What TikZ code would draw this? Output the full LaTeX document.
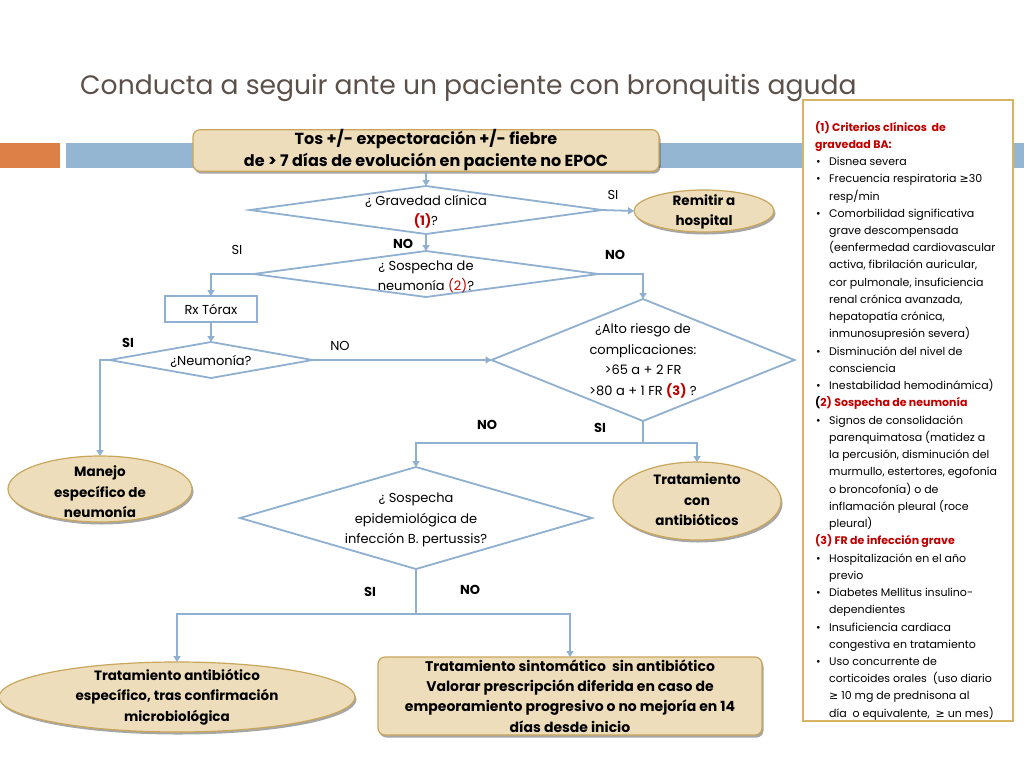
\documentclass[tikz,border=0pt]{standalone}
\usepackage{fontspec}
\setmainfont{Poppins}
\newfontfamily\symf{DejaVu Sans}
\usetikzlibrary{shapes.geometric,arrows.meta,shadows}
\definecolor{lineblue}{RGB}{143,176,208}
\definecolor{barblue}{RGB}{148,182,210}
\definecolor{barorange}{RGB}{221,128,71}
\definecolor{beige}{RGB}{238,221,186}
\definecolor{goldb}{RGB}{200,166,92}
\definecolor{panelgold}{RGB}{214,180,100}
\definecolor{redt}{RGB}{192,0,0}
\definecolor{titlec}{RGB}{92,80,74}
\newcommand{\bul}{\hspace*{1pt}\makebox[13pt][l]{•}}
\newcommand{\ind}{\hspace*{14pt}}
\tikzset{
  conn/.style={draw=lineblue, line width=1.8pt, -{Triangle[width=7pt,length=6pt]}},
  seg/.style={draw=lineblue, line width=1.8pt},
  dia/.style={diamond, draw=lineblue, line width=1.8pt, inner sep=0pt, outer sep=0pt, fill=white},
  dtext/.style={align=center, font=\fontsize{13}{20.5}\selectfont, inner sep=0pt},
  shad/.style={drop shadow={shadow xshift=1.5pt, shadow yshift=-2.5pt, fill=black, opacity=0.35}},
  bbox/.style={rectangle, rounded corners=7pt, draw=goldb, line width=1.2pt, fill=beige, shad, inner sep=0pt, outer sep=0pt, align=center},
  ell/.style={ellipse, draw=goldb, line width=1.2pt, fill=beige, shad, inner sep=0pt, outer sep=0pt},
  btext/.style={align=center, font=\bfseries\fontsize{13.5}{20.5}\selectfont, inner sep=0pt},
  lab/.style={font=\fontsize{13}{15}\selectfont, inner sep=0pt},
  blab/.style={font=\bfseries\fontsize{13}{15}\selectfont, inner sep=0pt},
}
\begin{document}
\begin{tikzpicture}[x=1pt,y=-1pt]
\useasboundingbox (0,0) rectangle (1024,768);
\fill[white] (0,0) rectangle (1024,768);
% decorative bars
\fill[barorange] (0,143) rectangle (60,168);
\fill[barblue] (66,143) rectangle (1024,168);
% title
\node[anchor=base west, inner sep=0pt, text=titlec, font=\fontsize{26.6}{30}\selectfont] (title) at (80,94) {Conducta a seguir ante un paciente con bronquitis aguda};
% notes panel
\node[draw=panelgold, line width=2pt, fill=white, minimum width=210pt, minimum height=621pt, inner sep=0pt] (panel) at (908,410.5) {};
\node[anchor=base west, inner sep=0pt] (notes) at (815,121) {\parbox[t]{260pt}{\raggedright\fontsize{11}{17.24}\selectfont
{\color{redt}\bfseries (1) Criterios clínicos\ \ de}\\
{\color{redt}\bfseries gravedad BA:}\\
\bul Disnea severa\\
\bul Frecuencia respiratoria {\symf ≥}30\\
\ind resp/min\\
\bul Comorbilidad significativa\\
\ind grave descompensada\\
\ind (eenfermedad cardiovascular\\
\ind activa, fibrilación auricular,\\
\ind cor pulmonale, insuficiencia\\
\ind renal crónica avanzada,\\
\ind hepatopatía crónica,\\
\ind inmunosupresión severa)\\
\bul Disminución del nivel de\\
\ind consciencia\\
\bul Inestabilidad hemodinámica)\\
{\bfseries (\textcolor{redt}{2) Sospecha de neumonía}}\\
\bul Signos de consolidación\\
\ind parenquimatosa (matidez a\\
\ind la percusión, disminución del\\
\ind murmullo, estertores, egofonía\\
\ind o broncofonía) o de\\
\ind inflamación pleural (roce\\
\ind pleural)\\
{\color{redt}\bfseries (3) FR de infección grave}\\
\bul Hospitalización en el año\\
\ind previo\\
\bul Diabetes Mellitus insulino-\\
\ind dependientes\\
\bul Insuficiencia cardiaca\\
\ind congestiva en tratamiento\\
\bul Uso concurrente de\\
\ind corticoides orales\ \ (uso diario\\
\ind {\symf ≥} 10 mg de prednisona al\\
\ind día\ \ o equivalente,\ \ {\symf ≥} un mes)}};
% top box
\node[bbox, minimum width=466pt, minimum height=39pt, font=\bfseries\fontsize{16}{22}\selectfont] (top) at (426,150.5) {Tos +/- expectoración +/- fiebre\\de > 7 días de evolución en paciente no EPOC};
% diamonds
\node[dia, minimum width=352pt, minimum height=48pt] (d1) at (426,210) {};
\node[dtext] (d1t) at (426,212) {¿ Gravedad clínica\\{\bfseries\color{redt}(1)}?};
\node[dia, minimum width=345pt, minimum height=46pt] (d2) at (426,274) {};
\node[dtext] (d2t) at (426,277) {¿ Sospecha de\\neumonía {\color{redt}(2)}?};
\node[dia, minimum width=303pt, minimum height=122pt] (d3) at (643,360) {};
\node[dtext] (d3t) at (643,361) {¿Alto riesgo de\\complicaciones:\\>65 a + 2 FR\\>80 a + 1 FR {\bfseries\color{redt}(3)} ?};
\node[dia, minimum width=203pt, minimum height=36pt] (d4) at (211,360) {};
\node[dtext] (d4t) at (211,361) {¿Neumonía?};
\node[dia, minimum width=352pt, minimum height=102pt] (d5) at (416,518) {};
\node[dtext] (d5t) at (416,520) {¿ Sospecha\\epidemiológica de\\infección B. pertussis?};
% rx box
\node[rectangle, draw=lineblue, line width=1.8pt, fill=white, minimum width=92pt, minimum height=26pt, inner sep=0pt, outer sep=0pt, font=\fontsize{13}{15}\selectfont] (rx) at (211,309) {Rx Tórax};
% terminal shapes
\node[ell, minimum width=140pt, minimum height=42pt] (remitir) at (704,211) {};
\node[btext] (remitirt) at (704,212) {Remitir a\\hospital};
\node[ell, minimum width=184pt, minimum height=66pt] (manejo) at (100,489) {};
\node[btext] (manejot) at (100,492) {Manejo\\específico de\\neumonía};
\node[ell, minimum width=168pt, minimum height=78pt] (trat) at (697,501) {};
\node[btext] (tratt) at (697,500) {Tratamiento\\con\\antibióticos};
\node[ell, minimum width=356pt, minimum height=70pt] (espec) at (177,697) {};
\node[btext] (espect) at (177,697) {Tratamiento antibiótico\\específico, tras confirmación\\microbiológica};
\node[bbox, minimum width=384pt, minimum height=78pt, font=\bfseries\fontsize{14}{20.3}\selectfont] (sint) at (570,696) {Tratamiento sintomático\ \ sin antibiótico\\Valorar prescripción diferida en caso de\\empeoramiento progresivo o no mejoría en 14\\días desde inicio};
% junction coordinates
\coordinate (j3) at (643,443);
\coordinate (j5) at (416,614);
% connectors
\draw[conn] (top.south) -- (d1.north);
\draw[conn] (d1.east) -- (remitir.west);
\draw[conn] (d1.south) -- (d2.north);
\draw[conn] (d2.west) -| (rx.north);
\draw[conn] (d2.east) -| (d3.north);
\draw[conn] (rx.south) -- (d4.north);
\draw[conn] (d4.west) -| (manejo.north);
\draw[conn] (d4.east) -- (d3.west);
\draw[seg] (d3.south) -- (j3);
\draw[conn] (j3) -| (d5.north);
\draw[conn] (j3) -| (trat.north);
\draw[seg] (d5.south) -- (j5);
\draw[conn] (j5) -| (espec.north);
\draw[conn] (j5) -| (sint.north);
% labels
\node[lab] (l1) at (613,195) {SI};
\node[blab] (l2) at (403,244) {NO};
\node[lab] (l3) at (237,250) {SI};
\node[blab] (l4) at (615,255) {NO};
\node[blab] (l5) at (128,343) {SI};
\node[lab] (l6) at (340,346) {NO};
\node[blab] (l7) at (487,425) {NO};
\node[blab] (l8) at (600,428) {SI};
\node[blab] (l9) at (370,592) {SI};
\node[blab] (l10) at (470,590) {NO};
\end{tikzpicture}
\end{document}
